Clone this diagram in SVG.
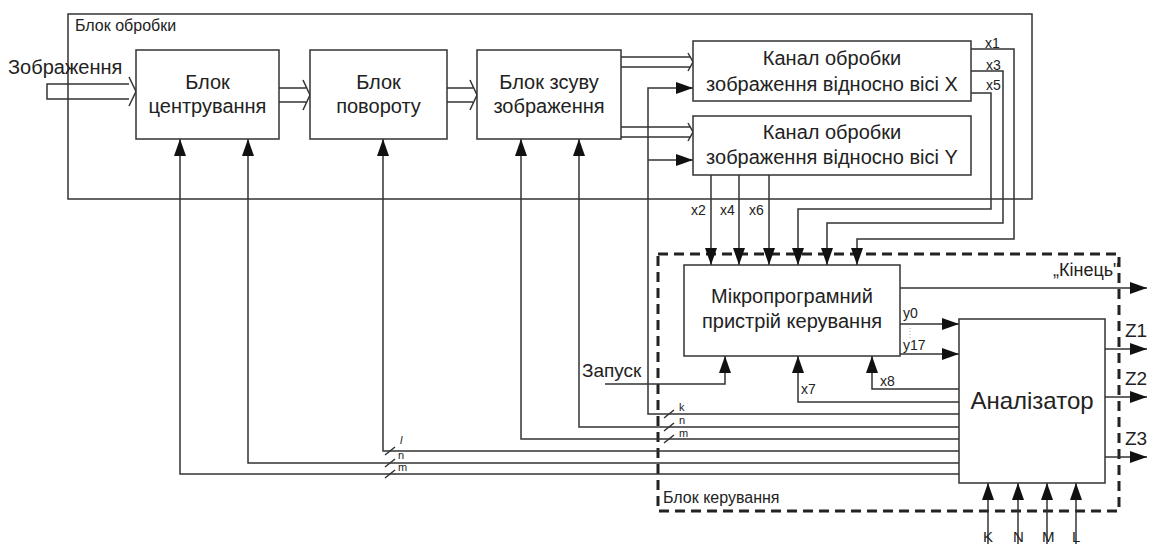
<svg xmlns="http://www.w3.org/2000/svg" width="1150" height="544" viewBox="0 0 1150 544">
<style>
  .box{fill:#fff;stroke:#333;stroke-width:1.5}
  .frame{fill:none;stroke:#333;stroke-width:1.5}
  .dash{fill:none;stroke:#222;stroke-width:3;stroke-dasharray:10 6}
  .ln{fill:none;stroke:#333;stroke-width:1.5}
  .arr{fill:none;stroke:#333;stroke-width:1.5;marker-end:url(#ah)}
  .t{font-family:"Liberation Sans",Arial,sans-serif;fill:#222}
  .big{font-size:20px;text-anchor:middle}
  .sm{font-size:14px}
  .xs{font-size:11px}
</style>
<defs>
  <marker id="ah" markerUnits="userSpaceOnUse" markerWidth="17" markerHeight="12" refX="17" refY="6" orient="auto">
    <path d="M0,0 L17,6 L0,12 z" fill="#111"/>
  </marker>
</defs>

<g id="processing-block">
  <rect class="frame" x="68" y="14" width="964" height="185"/>
  <text class="t" x="75" y="31" font-size="16">Блок обробки</text>
</g>

<g id="control-block">
  <rect class="dash" x="658" y="254" width="461" height="257"/>
  <text class="t" x="663" y="503" font-size="16">Блок керування</text>
</g>

<g id="connectors">
  <path class="ln" d="M129,84 H47 V99 H129 M129,77 L136,91.5 L129,106"/>
  <path class="ln" d="M279,88 H306 M279,102 H306 M303,80 L310,95 L303,110"/>
  <path class="ln" d="M447,88 H473 M447,102 H473 M470,80 L477,95 L470,110"/>
  <path class="ln" d="M621,57 H691 M621,67 H691 M688,53 L693,62 L688,71"/>
  <path class="ln" d="M621,127 H691 M621,137 H691 M688,123 L693,132 L688,141"/>

  <path class="arr" d="M959,414 H648 V88 H693"/>
  <path class="arr" d="M648,160 H693"/>
  <path class="arr" d="M959,427 H579 V139"/>
  <path class="arr" d="M959,439 H521 V139"/>
  <path class="arr" d="M959,451 H383 V139"/>
  <path class="arr" d="M959,463 H248 V139"/>
  <path class="arr" d="M959,474 H180 V139"/>

  <path class="ln" d="M664,418 L674,410 M664,431 L674,423 M664,443 L674,435 M385,455 L395,447 M385,467 L395,459 M385,478 L395,470"/>

  <path class="arr" d="M711,175 V265"/>
  <path class="arr" d="M739,175 V265"/>
  <path class="arr" d="M769,175 V265"/>
  <path class="arr" d="M971,93 H991 V209 H798 V265"/>
  <path class="arr" d="M971,71 H1003 V223 H827 V265"/>
  <path class="arr" d="M971,49 H1014 V239 H857 V265"/>

  <path class="arr" d="M900,288 H1147"/>
  <path class="arr" d="M900,324 H959"/>
  <path class="arr" d="M900,354 H959"/>
  <path d="M910,328 V340" stroke="#aaa" stroke-width="1" stroke-dasharray="1 2"/>

  <path class="arr" d="M959,402 H798 V356"/>
  <path class="arr" d="M959,389 H872 V356"/>
  <path class="arr" d="M605,384 H725 V356"/>

  <path class="arr" d="M1105,349 H1147"/>
  <path class="arr" d="M1105,397 H1147"/>
  <path class="arr" d="M1105,457 H1147"/>

  <path class="arr" d="M988,544 V483"/>
  <path class="arr" d="M1018,544 V483"/>
  <path class="arr" d="M1047,544 V483"/>
  <path class="arr" d="M1076,544 V483"/>
</g>

<g id="centering">
  <rect class="box" x="136" y="50" width="143" height="89"/>
  <text class="t big" x="207.5" y="89">Блок</text>
  <text class="t big" x="207.5" y="113">центрування</text>
</g>

<g id="rotation">
  <rect class="box" x="310" y="50" width="137" height="89"/>
  <text class="t big" x="378.5" y="89">Блок</text>
  <text class="t big" x="378.5" y="113">повороту</text>
</g>

<g id="shift">
  <rect class="box" x="477" y="50" width="144" height="89"/>
  <text class="t big" x="549" y="89">Блок зсуву</text>
  <text class="t big" x="549" y="113">зображення</text>
</g>

<g id="channel-x">
  <rect class="box" x="693" y="41" width="278" height="60"/>
  <text class="t big" x="832" y="65">Канал обробки</text>
  <text class="t big" x="832" y="91">зображення відносно вісі X</text>
</g>

<g id="channel-y">
  <rect class="box" x="693" y="116" width="278" height="59"/>
  <text class="t big" x="832" y="139">Канал обробки</text>
  <text class="t big" x="832" y="164">зображення відносно вісі Y</text>
</g>

<g id="micro">
  <rect class="box" x="684" y="265" width="216" height="91"/>
  <text class="t big" x="792" y="303">Мікропрограмний</text>
  <text class="t big" x="792" y="328">пристрій керування</text>
</g>

<g id="analyzer">
  <rect class="box" x="959" y="319" width="146" height="164"/>
  <text class="t" x="1032" y="409" font-size="24" text-anchor="middle">Аналізатор</text>
</g>

<g id="labels">
  <text class="t" x="8" y="74" font-size="20">Зображення</text>
  <text class="t sm" x="985" y="48">x1</text>
  <text class="t sm" x="986" y="70">x3</text>
  <text class="t sm" x="986" y="90">x5</text>
  <text class="t sm" x="691" y="215">x2</text>
  <text class="t sm" x="720" y="215">x4</text>
  <text class="t sm" x="749" y="215">x6</text>
  <text class="t sm" x="903" y="318">y0</text>
  <text class="t sm" x="903" y="350">y17</text>
  <text class="t sm" x="801" y="394">x7</text>
  <text class="t sm" x="880" y="386">x8</text>
  <text class="t" x="582" y="377" font-size="19">Запуск</text>
  <text class="t" x="1053" y="276" font-size="18">„Кінець"</text>
  <text class="t" x="1125" y="337" font-size="19">Z1</text>
  <text class="t" x="1125" y="385" font-size="19">Z2</text>
  <text class="t" x="1125" y="445" font-size="19">Z3</text>
  <text class="t" x="983" y="542" font-size="15">K</text>
  <text class="t" x="1013" y="542" font-size="15">N</text>
  <text class="t" x="1042" y="542" font-size="15">M</text>
  <text class="t" x="1072" y="542" font-size="15">L</text>
  <text class="t xs" x="679" y="411">k</text>
  <text class="t xs" x="679" y="424">n</text>
  <text class="t xs" x="679" y="437">m</text>
  <text class="t xs" x="400" y="444" font-style="italic">l</text>
  <text class="t xs" x="398" y="459">n</text>
  <text class="t xs" x="398" y="471">m</text>
</g>
</svg>
